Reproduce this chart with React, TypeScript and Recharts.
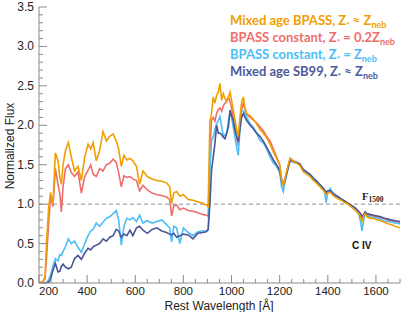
import { LineChart, Line, XAxis, YAxis, ReferenceLine } from 'recharts';

// rest wavelength grid [Å]
const wavelength = [
  200, 215, 225, 232, 240, 248, 258, 268, 279, 287,
  293, 300, 310, 322, 334, 348, 362, 376, 390, 404,
  415, 425, 438, 452, 466, 480, 494, 508, 521, 531,
  542, 553, 565, 578, 590, 605, 618, 632, 650, 670,
  690, 710, 730, 743, 751, 760, 772, 785, 800, 820,
  840, 860, 880, 895, 903, 910, 917, 924, 931, 938,
  945, 952, 959, 966, 973, 980, 987, 994, 1000, 1007,
  1014, 1021, 1028, 1035, 1042, 1049, 1056, 1063, 1077, 1090,
  1104, 1118, 1132, 1146, 1160, 1174, 1187, 1200, 1208, 1215,
  1222, 1232, 1243, 1257, 1270, 1284, 1298, 1312, 1326, 1340,
  1355, 1370, 1385, 1393, 1400, 1410, 1425, 1440, 1455, 1470,
  1485, 1500, 1515, 1528, 1536, 1542, 1548, 1555, 1562, 1575,
  1590, 1605, 1620, 1635, 1650, 1665, 1680, 1700,
];

// Mixed age BPASS, Z* ~ Zneb
const mixedBpass = [
  0.01, 0.01, 0.08, 0.55, 0.95, 1.15, 1.0, 1.65, 1.55, 1.33,
  1.25, 1.5, 1.68, 1.78, 1.6, 1.42, 1.48, 1.3, 1.6, 1.76,
  1.7, 1.78, 1.55, 1.68, 1.92, 1.8, 1.86, 1.89, 1.8, 1.7,
  1.48, 1.62, 1.56, 1.58, 1.55, 1.48, 1.25, 1.42, 1.35, 1.32,
  1.3, 1.29, 1.27, 1.22, 1.01, 1.14, 1.16, 1.1, 1.12, 1.06,
  1.05, 1.03, 1.01, 0.99, 0.97, 2.05, 2.15, 2.36, 2.28, 2.38,
  2.42, 2.53, 2.32, 2.4, 2.34, 2.3, 2.36, 2.42, 2.32, 2.2,
  2.07, 1.95, 1.86, 2.1, 2.3, 2.36, 2.22, 2.15, 2.12, 2.08,
  2.02, 1.95, 1.9, 1.84, 1.76, 1.66, 1.58, 1.5, 1.3, 1.24,
  1.32, 1.45, 1.58, 1.54, 1.52, 1.49, 1.41, 1.38, 1.35, 1.3,
  1.26, 1.21, 1.16, 1.12, 1.14, 1.15, 1.1, 1.07, 1.05, 1.02,
  1.0, 0.96, 0.92, 0.88, 0.84, 0.78, 0.84, 0.88, 0.84, 0.82,
  0.82, 0.8, 0.79, 0.77, 0.75, 0.74, 0.72, 0.7,
];

// BPASS constant, Z* = 0.2 Zneb
const bpassLowZ = [
  0.01, 0.01, 0.05, 0.35, 0.75, 1.1, 0.97, 1.45, 1.25, 1.12,
  0.9, 1.22, 1.45, 1.5, 1.4, 1.35, 1.41, 1.14, 1.35, 1.43,
  1.5, 1.38, 1.35, 1.45, 1.42, 1.5, 1.52, 1.57, 1.53, 1.4,
  1.22, 1.36, 1.34, 1.35, 1.32, 1.3, 1.17, 1.24, 1.18, 1.14,
  1.12, 1.11, 1.09, 1.06, 0.85, 0.98, 0.99, 0.93, 0.95, 0.92,
  0.91, 0.89, 0.87, 0.86, 0.85, 1.64, 2.07, 2.1, 2.05, 2.15,
  2.2, 2.22, 2.18, 2.25, 2.28, 2.3, 2.36, 2.3, 2.22, 2.1,
  1.98, 1.85, 1.74, 2.05, 2.2, 2.28, 2.2, 2.14, 2.1, 2.07,
  2.03, 1.98, 1.93, 1.86, 1.8, 1.7, 1.6, 1.5, 1.32, 1.26,
  1.32, 1.45, 1.58, 1.55, 1.53, 1.5, 1.43, 1.4, 1.36, 1.31,
  1.27, 1.22, 1.18, 1.14, 1.15, 1.16, 1.12, 1.09, 1.06, 1.03,
  1.01, 0.98, 0.94, 0.9, 0.87, 0.82, 0.86, 0.9, 0.87, 0.86,
  0.85, 0.84, 0.83, 0.82, 0.8, 0.79, 0.78, 0.77,
];

// BPASS constant, Z* = Zneb
const bpassConst = [
  0.0, 0.0, 0.0, 0.01, 0.04, 0.1, 0.22, 0.31, 0.28, 0.36,
  0.35, 0.4, 0.46, 0.56, 0.5, 0.53, 0.45, 0.39, 0.5, 0.6,
  0.66, 0.68, 0.76, 0.72, 0.77, 0.82, 0.84, 0.88, 0.92, 0.8,
  0.48, 0.72, 0.82, 0.8, 0.83, 0.78, 0.86, 0.76, 0.79, 0.76,
  0.78, 0.8, 0.74, 0.7, 0.52, 0.72, 0.7, 0.5, 0.7, 0.64,
  0.6, 0.65, 0.66, 0.66, 0.67, 1.43, 1.81, 1.85, 1.95, 2.02,
  2.06, 2.11, 1.98, 1.86, 1.88, 1.9, 2.05, 2.19, 2.1, 1.98,
  1.85, 1.73, 1.62, 1.95, 2.19, 2.18, 2.15, 2.1, 2.02, 1.98,
  1.9, 1.81, 1.78, 1.7, 1.6, 1.52, 1.48, 1.4, 1.22, 1.16,
  1.28, 1.42, 1.55, 1.53, 1.52, 1.5, 1.42, 1.4, 1.37, 1.32,
  1.28, 1.23, 1.18, 1.02, 1.15, 1.2, 1.12, 1.09, 1.06, 1.03,
  1.0, 0.97, 0.93, 0.88, 0.78, 0.66, 0.78, 0.88, 0.85, 0.84,
  0.83, 0.82, 0.81, 0.79, 0.78, 0.77, 0.76, 0.75,
];

// Mixed age SB99, Z* ~ Zneb
const mixedSb99 = [
  0.0, 0.0, 0.0, 0.0, 0.01, 0.05, 0.16, 0.25, 0.14, 0.15,
  0.21, 0.24, 0.2, 0.18, 0.2, 0.31, 0.35, 0.3, 0.38, 0.44,
  0.42, 0.46, 0.48, 0.5, 0.56, 0.53, 0.58, 0.6, 0.68, 0.66,
  0.58, 0.62, 0.6, 0.67, 0.6, 0.7, 0.72, 0.67, 0.63, 0.68,
  0.7, 0.66, 0.64, 0.62, 0.61, 0.63, 0.58, 0.6, 0.62, 0.61,
  0.56, 0.63, 0.64, 0.65, 0.68, 1.0, 1.43, 1.6, 1.77, 2.0,
  1.9, 1.9, 1.88, 1.85, 1.83, 1.9, 1.98, 2.19, 2.12, 2.07,
  1.95, 1.86, 1.79, 1.95, 2.1, 2.15, 2.1, 2.06, 2.0, 1.96,
  1.9, 1.86, 1.8, 1.72, 1.64, 1.56, 1.5, 1.43, 1.3, 1.24,
  1.3, 1.42, 1.55, 1.54, 1.53, 1.51, 1.44, 1.41, 1.38, 1.33,
  1.29, 1.24, 1.19, 1.15, 1.17, 1.17, 1.13, 1.1, 1.07, 1.04,
  1.01, 0.98, 0.95, 0.91, 0.88, 0.84, 0.86, 0.9, 0.88, 0.87,
  0.86, 0.85, 0.84, 0.82, 0.81, 0.8, 0.79, 0.78,
];

const xMajorTicks = [200, 400, 600, 800, 1000, 1200, 1400, 1600];
const yMajorTicks = [0, 0.5, 1.0, 1.5, 2.0, 2.5, 3.0, 3.5];

const ORANGE = '#EFA000';
const SALMON = '#EE6E6E';
const SKY = '#4CBEF5';
const NAVY = '#4A5596';
const AXIS = '#8a8a8a';
const FONT = '"Liberation Sans", Arial, sans-serif';
const LEGEND_FONT = 'Lato, "Open Sans", sans-serif';

const PLOT_LEFT = 39;
const PLOT_RIGHT = 400;
const PLOT_TOP = 7;
const PLOT_BOTTOM = 283;

const xMinor = Array.from({ length: 31 }, (_, i) => 200 + i * 50);
const yMinor = Array.from({ length: 36 }, (_, i) => i / 10);

const isMajorX = (v: number) => xMajorTicks.includes(v);
const isMajorY = (v: number) => yMajorTicks.some((t) => Math.abs(t - v) < 1e-6);

const data = wavelength.map((w, i) => ({
  w,
  mixedBpass: mixedBpass[i],
  bpassLowZ: bpassLowZ[i],
  bpassConst: bpassConst[i],
  mixedSb99: mixedSb99[i],
}));

function BottomTick(props: any) {
  const { x, payload } = props;
  const v = payload.value;
  const major = isMajorX(v);
  const len = major ? 8 : 4;
  return (
    <g>
      <line x1={x} x2={x} y1={PLOT_BOTTOM} y2={PLOT_BOTTOM - len} stroke={AXIS} />
      {major && (
        <text x={x} y={294.5} textAnchor={v === 200 ? 'start' : 'middle'} fontSize={11.5} fontFamily={FONT} fill="#222">
          {v}
        </text>
      )}
    </g>
  );
}

function TopTick(props: any) {
  const { x, payload } = props;
  const len = isMajorX(payload.value) ? 8 : 4;
  return <line x1={x} x2={x} y1={PLOT_TOP} y2={PLOT_TOP + len} stroke={AXIS} />;
}

function LeftTick(props: any) {
  const { y, payload } = props;
  const v = payload.value;
  const major = isMajorY(v);
  const len = major ? 8 : 4;
  return (
    <g>
      <line x1={PLOT_LEFT} x2={PLOT_LEFT + len} y1={y} y2={y} stroke={AXIS} />
      {major && (
        <text x={PLOT_LEFT - 5} y={y + 4} textAnchor="end" fontSize={12} fontFamily={FONT} fill="#222">
          {v.toFixed(1)}
        </text>
      )}
    </g>
  );
}

function RightTick(props: any) {
  const { y, payload } = props;
  const len = isMajorY(payload.value) ? 8 : 4;
  return <line x1={PLOT_RIGHT} x2={PLOT_RIGHT - len} y1={y} y2={y} stroke={AXIS} />;
}

const legendItems = [
  { pre: 'Mixed age BPASS, Z', rel: ' \u2248 Z', color: ORANGE },
  { pre: 'BPASS constant, Z', rel: ' = 0.2Z', color: SALMON },
  { pre: 'BPASS constant, Z', rel: ' = Z', color: SKY },
  { pre: 'Mixed age SB99, Z', rel: ' \u2248 Z', color: '#4E5A9C' },
];

export default function App() {
  return (
    <div style={{ position: 'absolute', left: 0, top: 0, background: '#fff' }}>
      <LineChart width={415} height={312} data={data} margin={{ top: PLOT_TOP, right: 15, left: 0, bottom: 0 }}>
        <XAxis
          xAxisId="b"
          dataKey="w"
          type="number"
          domain={[200, 1700]}
          allowDataOverflow
          ticks={xMinor}
          tick={<BottomTick />}
          tickLine={false}
          interval={0}
          height={29}
          axisLine={{ stroke: AXIS }}
        />
        <XAxis
          xAxisId="t"
          orientation="top"
          dataKey="w"
          type="number"
          domain={[200, 1700]}
          allowDataOverflow
          ticks={xMinor}
          tick={<TopTick />}
          tickLine={false}
          interval={0}
          height={0}
          axisLine={{ stroke: AXIS }}
        />
        <YAxis
          yAxisId="l"
          type="number"
          domain={[0, 3.5]}
          allowDataOverflow
          ticks={yMinor}
          tick={<LeftTick />}
          tickLine={false}
          interval={0}
          width={39}
          axisLine={{ stroke: AXIS }}
        />
        <YAxis
          yAxisId="r"
          orientation="right"
          type="number"
          domain={[0, 3.5]}
          allowDataOverflow
          ticks={yMinor}
          tick={<RightTick />}
          tickLine={false}
          interval={0}
          width={0}
          axisLine={{ stroke: AXIS }}
        />
        <ReferenceLine xAxisId="b" yAxisId="l" y={1} stroke="#8c8c8c" strokeDasharray="4 3" />
        <Line xAxisId="b" yAxisId="l" dataKey="bpassLowZ" stroke={SALMON} strokeWidth={1.6} dot={false} isAnimationActive={false} />
        <Line xAxisId="b" yAxisId="l" dataKey="bpassConst" stroke={SKY} strokeWidth={1.6} dot={false} isAnimationActive={false} />
        <Line xAxisId="b" yAxisId="l" dataKey="mixedSb99" stroke={NAVY} strokeWidth={1.6} dot={false} isAnimationActive={false} />
        <Line xAxisId="b" yAxisId="l" dataKey="mixedBpass" stroke={ORANGE} strokeWidth={1.6} dot={false} isAnimationActive={false} />

        {legendItems.map((it, i) => (
          <text key={i} x={230} y={25 + i * 17} fontFamily={LEGEND_FONT} fontWeight={700} fontSize={13} fill={it.color}>
            {it.pre}
            <tspan fontSize={8} dy={3}>*</tspan>
            <tspan dy={-3}>{it.rel}</tspan>
            <tspan fontSize={9} dy={3}>neb</tspan>
          </text>
        ))}

        <text x={362} y={200} fontFamily='"Liberation Serif", serif' fontWeight={700} fontSize={10.5} fill="#222">
          F<tspan fontSize={7.5} dy={2}>1500</tspan>
        </text>
        <text x={352} y={249} fontFamily={FONT} fontWeight={700} fontSize={10} fill="#111">
          C IV
        </text>
        <text x={219} y={309.5} textAnchor="middle" fontFamily={FONT} fontSize={12} fill="#222">
          Rest Wavelength [Å]
        </text>
        <text transform="rotate(-90)" x={-146} y={14} textAnchor="middle" fontFamily={FONT} fontSize={12} fill="#222">
          Normalized Flux
        </text>
      </LineChart>
    </div>
  );
}
